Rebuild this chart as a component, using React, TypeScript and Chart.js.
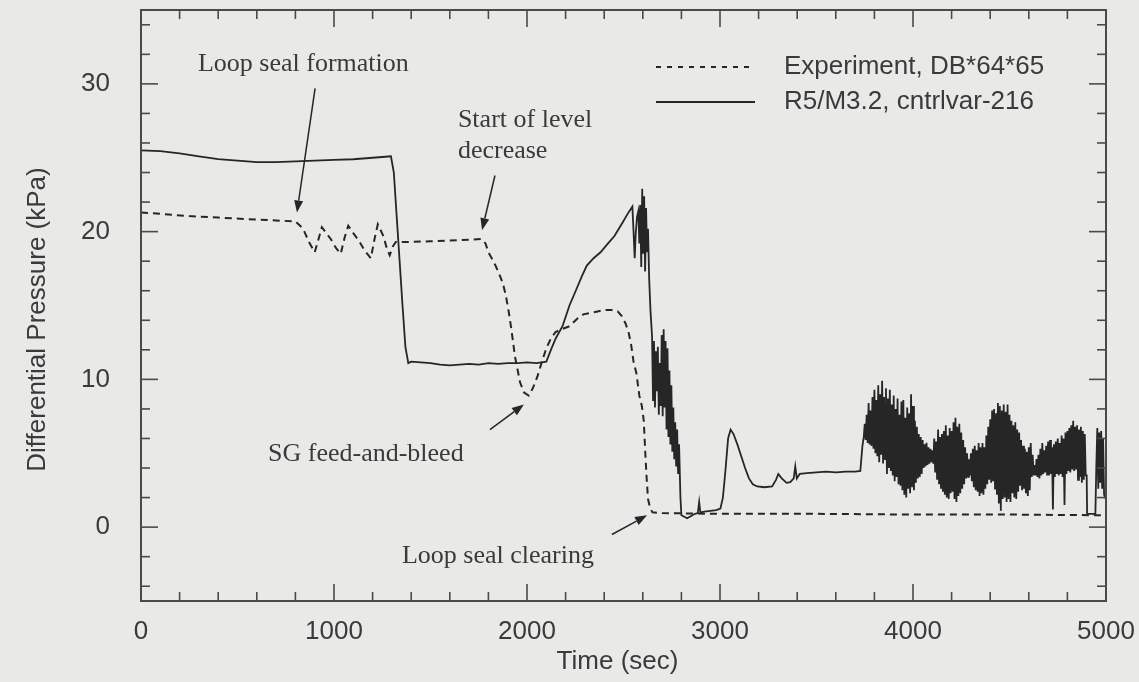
import React, { useEffect, useRef } from "react";
import { Chart, registerables } from "chart.js";

Chart.register(...registerables);

// Axis ranges and tick positions
const timeRange = [0, 5000];
const dpRange = [-5, 35];
const xTickLabels = [0, 1000, 2000, 3000, 4000, 5000];
const yTickLabels = [0, 10, 20, 30];
const xMinorTicks = [
  200, 400, 600, 800, 1200, 1400, 1600, 1800, 2200, 2400, 2600, 2800, 3200, 3400, 3600, 3800,
  4200, 4400, 4600, 4800,
];
const yMinorTicks = [-4, -2, 2, 4, 6, 8, 12, 14, 16, 18, 22, 24, 26, 28, 32, 34];

// Experiment, DB*64*65 (measured)
const expTime = [
  0, 100, 250, 400, 550, 700, 800, 840, 870, 900, 920, 937, 960, 983, 1010, 1035, 1055, 1074,
  1100, 1128, 1160, 1191, 1210, 1227, 1256, 1275, 1289, 1305, 1320, 1400, 1500, 1600, 1700,
  1765, 1785, 1800, 1830, 1854, 1875, 1890, 1905, 1919, 1937, 1952, 1964, 1985, 2009, 2030,
  2054, 2075, 2100, 2125, 2148, 2180, 2220, 2260, 2292, 2330, 2366, 2400, 2438, 2470, 2490,
  2510, 2526, 2540, 2552, 2567, 2582, 2595, 2605, 2613, 2620, 2627, 2638, 2650, 2700, 3000,
  3500, 4000, 4500, 5000,
];
const expDp = [
  21.3, 21.2, 21.05, 20.95, 20.85, 20.75, 20.7, 20.2, 19.3, 18.6, 19.5, 20.3, 19.9, 19.5, 18.9,
  18.5, 19.6, 20.4, 19.9, 19.4, 18.7, 18.2, 19.5, 20.5, 19.7, 18.8, 18.4, 19.0, 19.3, 19.3,
  19.35, 19.4, 19.45, 19.5, 19.2, 18.6, 17.9, 17.2, 16.5, 15.7, 14.6, 13.4, 11.6, 10.6, 9.8,
  9.1, 8.9, 9.4, 10.2, 11.1, 12.1, 12.8, 13.2, 13.4, 13.6, 14.1, 14.4, 14.5, 14.6, 14.7, 14.7,
  14.6, 14.3, 13.8, 13.2, 12.3, 11.2, 10.4, 8.9, 8.2, 7.2, 5.0, 3.3, 1.9, 1.3, 1.0, 0.95, 0.9,
  0.9, 0.85, 0.85, 0.8,
];

// R5/M3.2, cntrlvar-216 (calculated) - transient up to the onset of oscillation
const simTime = [
  0, 100, 200, 300, 400, 500, 600, 700, 800, 900, 1000, 1100, 1200, 1250, 1295, 1310, 1325,
  1340, 1355, 1370, 1385, 1400, 1450, 1500, 1550, 1600, 1650, 1700, 1750, 1800, 1850, 1900,
  1950, 2000, 2050, 2100, 2127, 2150, 2184, 2220, 2256, 2285, 2310, 2345, 2381, 2420, 2453,
  2490, 2526, 2546, 2552, 2558, 2563, 2570, 2577, 2582, 2587, 2592, 2597, 2602, 2607, 2612,
  2617, 2622, 2627, 2633, 2640, 2648, 2653, 2658, 2663, 2668, 2673, 2678, 2683, 2688, 2693,
  2698, 2703, 2708, 2713, 2718, 2723, 2728, 2733, 2738, 2743, 2748, 2753, 2758, 2763, 2768,
  2773, 2778, 2783, 2788, 2795, 2800, 2815, 2830, 2850, 2870, 2885, 2892, 2898, 2920, 2950,
  2980, 3002, 3015, 3028, 3042, 3055, 3070, 3090, 3110, 3130, 3150, 3170, 3193, 3230, 3270,
  3290, 3302, 3320, 3345, 3364, 3382, 3390, 3398, 3413, 3450, 3500, 3550, 3600, 3650, 3700,
  3727, 3738, 3745,
];
const simDp = [
  25.5, 25.45, 25.3, 25.1, 24.9, 24.8, 24.7, 24.7, 24.75, 24.8, 24.85, 24.9, 25.0, 25.05, 25.1,
  24.0, 21.0, 18.0, 15.0, 12.2, 11.1, 11.2, 11.15, 11.1, 11.0, 10.95, 11.0, 11.05, 11.0, 11.1,
  11.05, 11.1, 11.1, 11.15, 11.1, 11.2, 12.1, 12.8, 13.6, 15.0, 16.1, 17.0, 17.7, 18.2, 18.6,
  19.2, 19.7, 20.5, 21.3, 21.7, 20.0, 18.2, 19.8, 21.0, 21.4, 19.2, 21.8, 17.6, 22.9, 18.5,
  22.4, 17.3, 21.6, 18.6, 20.2, 16.8, 14.6, 12.9, 8.6, 12.6, 8.1, 11.9, 9.2, 12.2, 7.6, 11.1,
  8.2, 13.0, 7.5, 13.4, 8.1, 12.6, 6.6, 12.1, 6.1, 10.6, 5.6, 9.6, 5.1, 8.1, 4.6, 7.1, 4.1,
  6.6, 3.6, 5.6, 2.0, 0.8, 0.7, 0.6, 0.75, 0.9, 0.95, 1.7, 1.0, 1.05, 1.1, 1.15, 1.25, 2.0,
  3.8, 6.0, 6.6, 6.3, 5.6, 4.8, 4.0, 3.3, 2.9, 2.75, 2.7, 2.75, 3.2, 3.6, 3.3, 3.0, 3.05, 3.3,
  4.1, 3.3, 3.6, 3.65, 3.7, 3.75, 3.7, 3.75, 3.75, 3.8, 5.5, 6.1,
];

// Calculated oscillation, sampled every 5 s from 3750 s
const oscStart = 3750;
const oscStep = 5;
const oscDp = [
  7.0, 5.9, 7.6, 5.7, 8.4, 5.6, 7.9, 5.5, 8.8, 5.3,
  9.3, 5.0, 8.6, 4.8, 9.6, 4.4, 9.0, 4.9, 9.9, 4.3,
  8.8, 4.6, 9.4, 3.6, 8.7, 4.0, 9.3, 3.8, 8.3, 3.5,
  8.9, 3.1, 8.0, 3.4, 8.7, 2.9, 7.6, 2.8, 8.5, 2.5,
  8.6, 2.2, 7.4, 2.0, 8.1, 2.6, 7.7, 2.3, 9.0, 2.7,
  8.2, 2.5, 7.2, 3.0, 6.8, 3.3, 6.3, 3.4, 6.1, 3.6,
  5.9, 4.0, 5.6, 4.1, 5.7, 4.2, 5.4, 4.3, 5.3, 4.4,
  5.2, 4.3, 6.0, 3.7, 5.8, 3.2, 6.6, 2.9, 6.1, 2.6,
  6.3, 2.4, 6.5, 2.2, 6.9, 2.0, 6.2, 1.9, 6.7, 2.3,
  6.5, 2.4, 7.1, 1.9, 7.4, 1.7, 6.8, 2.1, 7.0, 2.3,
  6.4, 2.6, 5.9, 2.9, 5.4, 3.3, 5.0, 3.4, 4.6, 3.5,
  5.0, 3.1, 5.3, 2.7, 5.5, 2.5, 5.2, 2.4, 5.7, 2.1,
  5.4, 2.3, 5.7, 2.2, 5.4, 2.6, 6.2, 2.9, 6.8, 3.2,
  7.3, 3.0, 7.9, 3.1, 8.0, 2.6, 7.7, 2.2, 8.4, 1.6,
  8.2, 1.1, 7.9, 1.9, 8.3, 2.0, 7.8, 1.7, 8.3, 1.9,
  7.6, 1.7, 7.2, 2.3, 6.9, 2.0, 7.1, 1.9, 6.6, 2.4,
  6.4, 2.8, 5.9, 2.5, 5.5, 2.6, 5.3, 2.3, 5.1, 2.1,
  5.4, 2.5, 5.7, 3.4, 4.9, 3.5, 4.2, 3.5, 4.6, 3.4,
  4.9, 3.3, 5.3, 3.5, 5.7, 3.6, 5.2, 3.7, 5.5, 3.5,
  5.8, 3.5, 5.9, 3.6, 5.4, 1.2, 5.6, 3.4, 5.8, 3.6,
  6.0, 3.5, 5.7, 3.6, 6.2, 3.4, 6.0, 1.5, 6.4, 3.6,
  6.5, 3.8, 6.7, 3.7, 6.9, 3.9, 7.2, 3.8, 6.8, 3.9,
  6.9, 3.2, 6.6, 3.4, 6.8, 3.0, 6.5, 3.2, 6.3, 3.5,
];

// Calculated, final drop-out and recovery
const tailTime = [4900, 4902, 4945, 4950, 4955, 4960, 4965, 4970, 4975, 4980, 4985, 4990, 4995, 5000];
const tailDp = [3.5, 0.9, 0.9, 4.2, 6.7, 2.6, 6.4, 3.0, 6.5, 2.6, 6.0, 2.2, 2.0, 2.0];

const seriesNames = ["Experiment, DB*64*65", "R5/M3.2, cntrlvar-216"];

// Callout texts (anchored in data units: [time, dp])
const noteLines = [
  { text: "Loop seal formation", at: [295, 30.9] },
  { text: "Start of level", at: [1642, 27.1] },
  { text: "decrease", at: [1642, 25.0] },
  { text: "SG feed-and-bleed", at: [658, 4.5] },
  { text: "Loop seal clearing", at: [1352, -2.4] },
];
// Arrows: [tailTime, tailDp, tipTime, tipDp]
const noteArrows = [
  [902, 29.7, 808, 21.3],
  [1834, 23.8, 1767, 20.1],
  [1808, 6.6, 1984, 8.3],
  [2440, -0.5, 2622, 0.8],
];

const INK = "#262626";
const TEXT = "#3a3a3a";
const FRAME = "#4a4a4a";
const SANS = '"Liberation Sans", Arial, sans-serif';
const SERIF = '"Liberation Serif", "Times New Roman", serif';

const toPoints = (xs: number[], ys: number[]) => xs.map((t, i) => ({ x: t, y: ys[i] }));

const simPoints = [
  ...toPoints(simTime, simDp),
  ...oscDp.map((v, i) => ({ x: oscStart + i * oscStep, y: v })),
  ...toPoints(tailTime, tailDp),
];

const decorations = {
  id: "decorations",
  afterDraw(chart: any) {
    const { ctx, chartArea: a, scales } = chart;
    const sx = scales.x;
    const sy = scales.y;
    ctx.save();

    // Inward tick marks on all four sides
    ctx.strokeStyle = FRAME;
    ctx.lineWidth = 1.6;
    const seg = (x1: number, y1: number, x2: number, y2: number) => {
      ctx.beginPath();
      ctx.moveTo(x1, y1);
      ctx.lineTo(x2, y2);
      ctx.stroke();
    };
    xMinorTicks.forEach((v) => {
      const p = sx.getPixelForValue(v);
      seg(p, a.bottom, p, a.bottom - 9);
      seg(p, a.top, p, a.top + 9);
    });
    xTickLabels.forEach((v) => {
      const p = sx.getPixelForValue(v);
      seg(p, a.bottom, p, a.bottom - 17);
      seg(p, a.top, p, a.top + 17);
    });
    yMinorTicks.forEach((v) => {
      const p = sy.getPixelForValue(v);
      seg(a.left, p, a.left + 9, p);
      seg(a.right, p, a.right - 9, p);
    });
    yTickLabels.forEach((v) => {
      const p = sy.getPixelForValue(v);
      seg(a.left, p, a.left + 17, p);
      seg(a.right, p, a.right - 17, p);
    });

    // Plot frame
    ctx.lineWidth = 2;
    ctx.strokeRect(a.left, a.top, a.right - a.left, a.bottom - a.top);

    // Axis titles
    ctx.fillStyle = TEXT;
    ctx.font = `26px ${SANS}`;
    ctx.textAlign = "center";
    ctx.textBaseline = "middle";
    ctx.fillText("Time (sec)", (a.left + a.right) / 2 - 6, a.bottom + 61);
    ctx.save();
    ctx.translate(a.left - 103, (a.top + a.bottom) / 2 + 14);
    ctx.rotate(-Math.PI / 2);
    ctx.fillText("Differential Pressure (kPa)", 0, 0);
    ctx.restore();

    // Legend
    const lx0 = 656;
    const lx1 = 755;
    const rows = [67, 102];
    ctx.lineWidth = 1.8;
    ctx.strokeStyle = INK;
    ctx.setLineDash([5, 6]);
    seg(lx0, rows[0], lx1, rows[0]);
    ctx.setLineDash([]);
    seg(lx0, rows[1], lx1, rows[1]);
    ctx.textAlign = "left";
    ctx.fillText(seriesNames[0], 784, rows[0]);
    ctx.fillText(seriesNames[1], 784, rows[1]);

    // Callouts
    ctx.font = `26px ${SERIF}`;
    ctx.textBaseline = "alphabetic";
    noteLines.forEach((n) => {
      ctx.fillText(n.text, sx.getPixelForValue(n.at[0]), sy.getPixelForValue(n.at[1]));
    });
    ctx.fillStyle = INK;
    ctx.strokeStyle = INK;
    ctx.lineWidth = 1.5;
    noteArrows.forEach(([t0, v0, t1, v1]) => {
      const x0 = sx.getPixelForValue(t0);
      const y0 = sy.getPixelForValue(v0);
      const x1 = sx.getPixelForValue(t1);
      const y1 = sy.getPixelForValue(v1);
      const ang = Math.atan2(y1 - y0, x1 - x0);
      const len = 12;
      const half = 4.5;
      const bx = x1 - len * Math.cos(ang);
      const by = y1 - len * Math.sin(ang);
      seg(x0, y0, bx, by);
      ctx.beginPath();
      ctx.moveTo(x1, y1);
      ctx.lineTo(bx + half * Math.sin(ang), by - half * Math.cos(ang));
      ctx.lineTo(bx - half * Math.sin(ang), by + half * Math.cos(ang));
      ctx.closePath();
      ctx.fill();
    });

    ctx.restore();
  },
};

export default function App() {
  const canvasRef = useRef<HTMLCanvasElement | null>(null);

  useEffect(() => {
    const canvas = canvasRef.current;
    if (!canvas) return;
    const chart = new Chart(canvas, {
      type: "line",
      data: {
        datasets: [
          {
            label: seriesNames[0],
            data: toPoints(expTime, expDp),
            borderColor: INK,
            borderWidth: 2,
            borderDash: [7, 5],
            pointRadius: 0,
            tension: 0,
            fill: false,
          },
          {
            label: seriesNames[1],
            data: simPoints,
            borderColor: INK,
            borderWidth: 1.8,
            pointRadius: 0,
            tension: 0,
            fill: false,
          },
        ],
      },
      options: {
        responsive: false,
        animation: false,
        parsing: false,
        normalized: true,
        events: [],
        layout: { padding: { top: 10, right: 33, left: 0, bottom: 0 } },
        plugins: {
          legend: { display: false },
          tooltip: { enabled: false },
          title: { display: false },
        },
        scales: {
          x: {
            type: "linear",
            min: timeRange[0],
            max: timeRange[1],
            grid: { display: false },
            border: { display: false },
            ticks: {
              autoSkip: false,
              maxRotation: 0,
              padding: 7,
              color: TEXT,
              font: { family: SANS, size: 26 },
              callback: (v: any) => String(v),
            },
            afterBuildTicks: (s: any) => {
              s.ticks = xTickLabels.map((v) => ({ value: v }));
            },
            afterFit: (s: any) => {
              s.height = 81;
              s.paddingLeft = 0;
              s.paddingRight = 0;
            },
          },
          y: {
            type: "linear",
            min: dpRange[0],
            max: dpRange[1],
            grid: { display: false },
            border: { display: false },
            ticks: {
              autoSkip: false,
              padding: 23,
              color: TEXT,
              font: { family: SANS, size: 26 },
              callback: (v: any) => String(v),
            },
            afterBuildTicks: (s: any) => {
              s.ticks = yTickLabels.map((v) => ({ value: v }));
            },
            afterFit: (s: any) => {
              s.width = 141;
              s.paddingTop = 0;
              s.paddingBottom = 0;
            },
          },
        },
      },
      plugins: [decorations],
    });
    return () => chart.destroy();
  }, []);

  return (
    <div
      style={{
        position: "fixed",
        left: 0,
        top: 0,
        width: 1139,
        height: 682,
        background: "#e9e9e8",
      }}
    >
      <canvas ref={canvasRef} width={1139} height={682} style={{ display: "block" }} />
    </div>
  );
}
